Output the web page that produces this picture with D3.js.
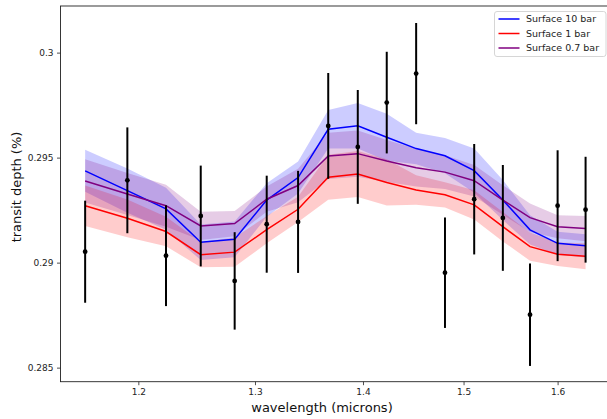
<!DOCTYPE html>
<html>
<head>
<meta charset="utf-8">
<script src="https://cdn.jsdelivr.net/npm/d3@7"></script>
<style>
  html, body { margin: 0; padding: 0; background: #fff; }
  svg { display: block; font-family: "DejaVu Sans", sans-serif; }
</style>
</head>
<body>
<svg id="chart" width="607" height="419"></svg>
<script>
// Spectral bins (microns)
const wavelength = [1.157, 1.191, 1.223, 1.2525, 1.282, 1.3105, 1.339, 1.367, 1.395,
                    1.423, 1.452, 1.481, 1.511, 1.541, 1.570, 1.600, 1.631];

// Observed transit depth (%) and 1-sigma uncertainty
const observed = [0.29052, 0.29392, 0.29033, 0.29222, 0.28913, 0.29183, 0.29194, 0.29651, 0.29551,
                  0.29762, 0.29900, 0.28952, 0.29302, 0.29213, 0.28752, 0.29271, 0.29252];
const observedErr = [0.00243, 0.00252, 0.00240, 0.00240, 0.00232, 0.00231, 0.00243, 0.00252, 0.00271,
                     0.00242, 0.00241, 0.00263, 0.00263, 0.00252, 0.00244, 0.00264, 0.00252];

// Model spectra for different surface pressures
const model10bar = [0.29437, 0.29343, 0.29256, 0.29097, 0.29111, 0.29298, 0.29405, 0.29635, 0.29652,
                    0.29597, 0.29543, 0.29509, 0.29438, 0.29298, 0.29156, 0.29092, 0.29080];
const model1bar = [0.29271, 0.29211, 0.29148, 0.29038, 0.29050, 0.29157, 0.29254, 0.29407, 0.29422,
                   0.29382, 0.29346, 0.29323, 0.29275, 0.29171, 0.29076, 0.29040, 0.29030];
const model07bar = [0.29389, 0.29327, 0.29271, 0.29175, 0.29186, 0.29302, 0.29367, 0.29508, 0.29519,
                    0.29484, 0.29452, 0.29431, 0.29390, 0.29298, 0.29214, 0.29171, 0.29162];

// Model spread (half-width of shaded region)
const spread10bar = [0.00100, 0.00105, 0.00100, 0.00085, 0.00085, 0.00080, 0.00076, 0.00092, 0.00108,
                     0.00112, 0.00075, 0.00084, 0.00105, 0.00095, 0.00070, 0.00055, 0.00055];
const spread1bar = [0.00096, 0.00090, 0.00070, 0.00060, 0.00070, 0.00065, 0.00060, 0.00107, 0.00110,
                    0.00110, 0.00070, 0.00060, 0.00070, 0.00070, 0.00067, 0.00056, 0.00062];
const spread07bar = [0.00103, 0.00100, 0.00100, 0.00067, 0.00060, 0.00060, 0.00080, 0.00110, 0.00110,
                     0.00100, 0.00090, 0.00080, 0.00075, 0.00070, 0.00068, 0.00055, 0.00060];

const seriesNames = ["Surface 10 bar", "Surface 1 bar", "Surface 0.7 bar"];
const seriesColors = ["#0000ff", "#ff0000", "#800080"];

// Axis limits and ticks
const xLimits = [1.1376, 1.6597];
const yLimits = [0.28433, 0.30222];
const xTicks = [1.2, 1.3, 1.4, 1.5, 1.6];
const xTickLabels = ["1.2", "1.3", "1.4", "1.5", "1.6"];
const yTicks = [0.285, 0.29, 0.295, 0.3];
const yTickLabels = ["0.285", "0.29", "0.295", "0.3"];

const svg = d3.select("#chart");
const plot = { left: 60.5, right: 611, top: 6, bottom: 381.7 };

const x = d3.scaleLog().domain(xLimits).range([plot.left, plot.right]);
const y = d3.scaleLinear().domain(yLimits).range([plot.bottom, plot.top]);

const models = [
  { name: seriesNames[0], color: seriesColors[0], values: model10bar, spread: spread10bar },
  { name: seriesNames[1], color: seriesColors[1], values: model1bar, spread: spread1bar },
  { name: seriesNames[2], color: seriesColors[2], values: model07bar, spread: spread07bar }
];

const area = d3.area()
  .x(d => x(d.w))
  .y0(d => y(d.v - d.s))
  .y1(d => y(d.v + d.s));
const line = d3.line()
  .x(d => x(d.w))
  .y(d => y(d.v));

const rows = m => wavelength.map((w, i) => ({ w, v: m.values[i], s: m.spread[i] }));

// Shaded model spreads
svg.append("g").selectAll("path")
  .data(models)
  .join("path")
  .attr("d", m => area(rows(m)))
  .attr("fill", m => m.color)
  .attr("fill-opacity", 0.2)
  .attr("stroke", "none");

// Model lines
svg.append("g").selectAll("path")
  .data(models)
  .join("path")
  .attr("d", m => line(rows(m)))
  .attr("fill", "none")
  .attr("stroke", m => m.color)
  .attr("stroke-width", 1.5);

// Observed points with error bars
const obs = wavelength.map((w, i) => ({ w, v: observed[i], e: observedErr[i] }));
const pts = svg.append("g");
pts.selectAll("line")
  .data(obs)
  .join("line")
  .attr("x1", d => x(d.w)).attr("x2", d => x(d.w))
  .attr("y1", d => y(d.v - d.e)).attr("y2", d => y(d.v + d.e))
  .attr("stroke", "#000")
  .attr("stroke-width", 2);
pts.selectAll("circle")
  .data(obs)
  .join("circle")
  .attr("cx", d => x(d.w))
  .attr("cy", d => y(d.v))
  .attr("r", 2.4)
  .attr("fill", "#000");

// Axes
const yAxis = d3.axisLeft(y)
  .tickValues(yTicks)
  .tickFormat((d, i) => yTickLabels[i])
  .tickSize(3.5)
  .tickPadding(3.5);
const xAxis = d3.axisBottom(x)
  .tickValues(xTicks)
  .tickFormat((d, i) => xTickLabels[i])
  .tickSize(3.5)
  .tickPadding(3.5);

const gy = svg.append("g")
  .attr("transform", `translate(${plot.left},0)`)
  .call(yAxis);
const gx = svg.append("g")
  .attr("transform", `translate(0,${plot.bottom})`)
  .call(xAxis);

[gx, gy].forEach(g => {
  g.select(".domain").remove();
  g.selectAll(".tick line").attr("stroke", "#222").attr("stroke-width", 0.8);
  g.selectAll(".tick text").attr("fill", "#222").style("font-size", "9px")
    .style("font-family", "'DejaVu Sans', sans-serif");
});

// Frame
svg.append("rect")
  .attr("x", plot.left)
  .attr("y", plot.top)
  .attr("width", plot.right - plot.left)
  .attr("height", plot.bottom - plot.top)
  .attr("fill", "none")
  .attr("stroke", "#222")
  .attr("stroke-width", 0.9);

// Axis titles
svg.append("text")
  .attr("x", 322)
  .attr("y", 412)
  .attr("text-anchor", "middle")
  .style("font-size", "13px")
  .attr("fill", "#111")
  .text("wavelength (microns)");
svg.append("text")
  .attr("transform", "translate(21,187) rotate(-90)")
  .attr("text-anchor", "middle")
  .style("font-size", "13px")
  .attr("fill", "#111")
  .text("transit depth (%)");

// Legend
const legend = svg.append("g").attr("transform", "translate(494.5,11.5)");
legend.append("rect")
  .attr("width", 111.5)
  .attr("height", 45)
  .attr("rx", 2.5)
  .attr("fill", "#fff")
  .attr("fill-opacity", 0.8)
  .attr("stroke", "#ccc")
  .attr("stroke-width", 0.8);
const items = legend.selectAll("g.item")
  .data(models)
  .join("g")
  .attr("class", "item")
  .attr("transform", (d, i) => `translate(0,${7.5 + i * 14.5})`);
items.append("line")
  .attr("x1", 4).attr("x2", 25)
  .attr("stroke", d => d.color)
  .attr("stroke-width", 1.5);
items.append("text")
  .attr("x", 31.5)
  .attr("dy", "0.35em")
  .style("font-size", "9.5px")
  .attr("fill", "#222")
  .text(d => d.name);
</script>
</body>
</html>
